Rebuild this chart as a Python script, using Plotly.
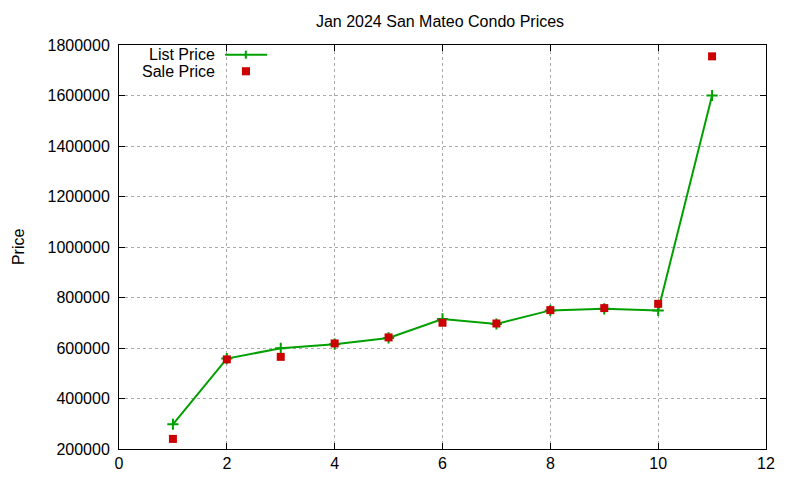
import plotly.graph_objects as go

# listing number on the x axis, prices
sale_no = [1, 2, 3, 4, 5, 6, 7, 8, 9, 10, 11]
list_price = [298000, 558000, 599000, 615000, 640000, 715000, 695000, 749000, 755000, 749000, 1600000]
sale_price = [240000, 555000, 565000, 618000, 642000, 700000, 697000, 750000, 758000, 775000, 1755000]

x_ticks = [0, 2, 4, 6, 8, 10, 12]
y_ticks = [200000, 400000, 600000, 800000, 1000000, 1200000, 1400000, 1600000, 1800000]

green = '#00a000'
red = '#cc0000'
font = 'Liberation Sans, Arial, sans-serif'

fig = go.Figure()
fig.add_trace(go.Scatter(
    x=sale_no, y=list_price, mode='lines+markers', name='List Price',
    line=dict(color=green, width=2),
    marker=dict(symbol='cross-thin', size=8, line=dict(color=green, width=2)),
))
fig.add_trace(go.Scatter(
    x=sale_no, y=sale_price, mode='markers', name='Sale Price',
    marker=dict(symbol='square', size=8, color=red),
))

axis_style = dict(
    showline=True, linecolor='black', linewidth=1, mirror='ticks',
    ticks='inside', ticklen=6, tickcolor='black',
    showgrid=True, gridcolor='#aaaaaa', griddash='dot', gridwidth=1,
    zeroline=False, automargin=False, tickfont=dict(size=16, color='black'),
)

fig.update_xaxes(range=[0, 12], tickvals=x_ticks, **axis_style)
fig.update_yaxes(range=[200000, 1800000], tickvals=y_ticks,
                 tickformat='d', ticklabelstandoff=5, **axis_style)

# gnuplot-style key: text on the left, sample on the right
key_rows = [('List Price', 0.977), ('Sale Price', 0.935)]
for label, yy in key_rows:
    fig.add_annotation(x=0.1515, y=yy, xref='paper', yref='paper', text=label,
                       showarrow=False, xanchor='right', yanchor='middle',
                       font=dict(size=16, color='black'))
fig.add_shape(type='line', xref='paper', yref='paper',
              x0=0.164, x1=0.229, y0=0.976, y1=0.976,
              line=dict(color=green, width=2))
fig.add_shape(type='line', xref='paper', yref='paper',
              x0=0.196, x1=0.196, y0=0.966, y1=0.986,
              line=dict(color=green, width=2))
fig.add_shape(type='rect', xref='paper', yref='paper',
              x0=0.190, x1=0.2025, y0=0.925, y1=0.945,
              fillcolor=red, line=dict(width=0))

fig.add_annotation(x=-0.1716, y=0.501, xref='paper', yref='paper', text='Price',
                   textangle=-90, showarrow=False, xanchor='left', yanchor='middle',
                   font=dict(size=16, color='black'))

fig.update_layout(
    width=800, height=480,
    margin=dict(l=111, r=42, t=37, b=39),
    paper_bgcolor='white', plot_bgcolor='white',
    font=dict(family=font, size=16, color='black'),
    showlegend=False,
    title=dict(text='Jan 2024 San Mateo Condo Prices', x=0.54, xanchor='center',
               y=0.973, yanchor='middle', font=dict(size=16)),
)

fig.write_html('out.html')
